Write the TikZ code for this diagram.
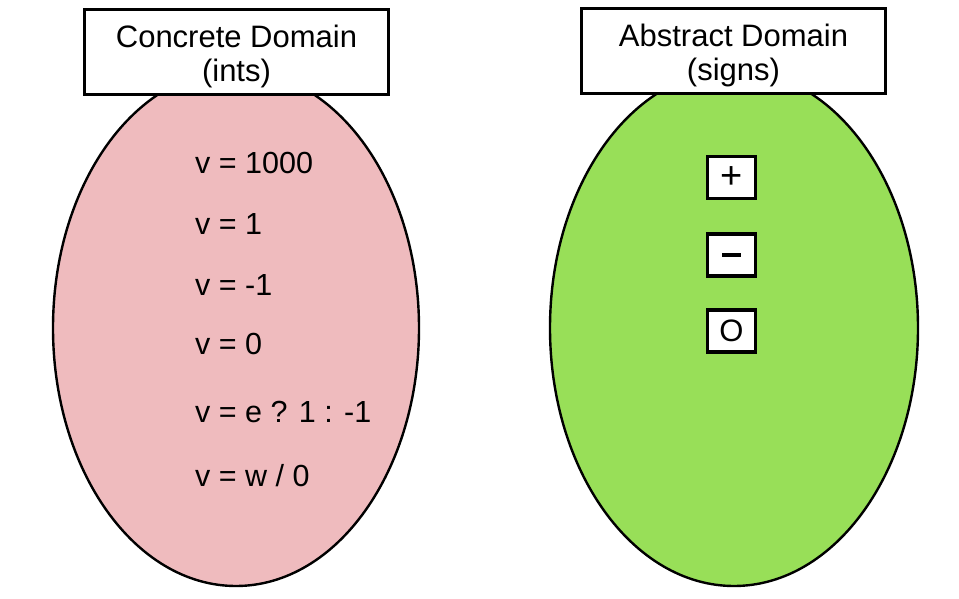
\documentclass[tikz,border=0pt]{standalone}
\usepackage{fontspec}
\setmainfont{Liberation Sans}
\usetikzlibrary{shapes.geometric}
\definecolor{pinkfill}{RGB}{239,187,190}
\definecolor{greenfill}{RGB}{152,223,88}
\tikzset{
  domainblob/.style={ellipse, draw=black, line width=2.4pt, inner sep=0pt},
  headerbox/.style={draw=black, fill=white, line width=3.5pt, minimum width=304pt, minimum height=85pt, inner sep=0pt},
  headertext/.style={align=center, inner sep=0pt, font=\fontsize{31pt}{34pt}\selectfont},
  item/.style={anchor=west, inner sep=0pt, font=\fontsize{30.5pt}{34pt}\selectfont},
  sign/.style={draw=black, fill=white, line width=3.5pt, minimum width=48pt, minimum height=42pt, inner sep=0pt,
    font=\fontsize{31pt}{34pt}\selectfont}
}
\begin{document}
\begin{tikzpicture}[x=1pt,y=-1pt]
\useasboundingbox (0,0) rectangle (959,599);
% domains
\node[domainblob, fill=pinkfill, minimum width=366pt, minimum height=516pt] (conc) at (236,328) {};
\node[domainblob, fill=greenfill, minimum width=368pt, minimum height=516pt] (abst) at (734,328) {};
% headers
\node[headerbox] (hconc) at (236.5,52) {};
\node[headertext] (tconc) at (236.5,56) {Concrete Domain\\(ints)};
\node[headerbox] (habst) at (733.5,51) {};
\node[headertext] (tabst) at (733.5,55) {Abstract Domain\\(signs)};
% concrete items
\node[item] (c1) at (195,163) {v = 1000};
\node[item] (c2) at (195,224) {v = 1};
\node[item] (c3) at (195,285) {v = -1};
\node[item] (c4) at (195,344) {v = 0};
\node[item] (c5) at (195,412) {v = e ? 1 : -1};
\node[item] (c6) at (195,476) {v = w / 0};
% abstract signs
\node[sign, font=\fontsize{38pt}{38pt}\selectfont] (plus) at (731.5,177.5) {+};
\node[sign] (minus) at (731.5,255) {\rule{19pt}{4.5pt}};
\node[sign] (zero) at (731.5,331) {O};
\end{tikzpicture}
\end{document}
